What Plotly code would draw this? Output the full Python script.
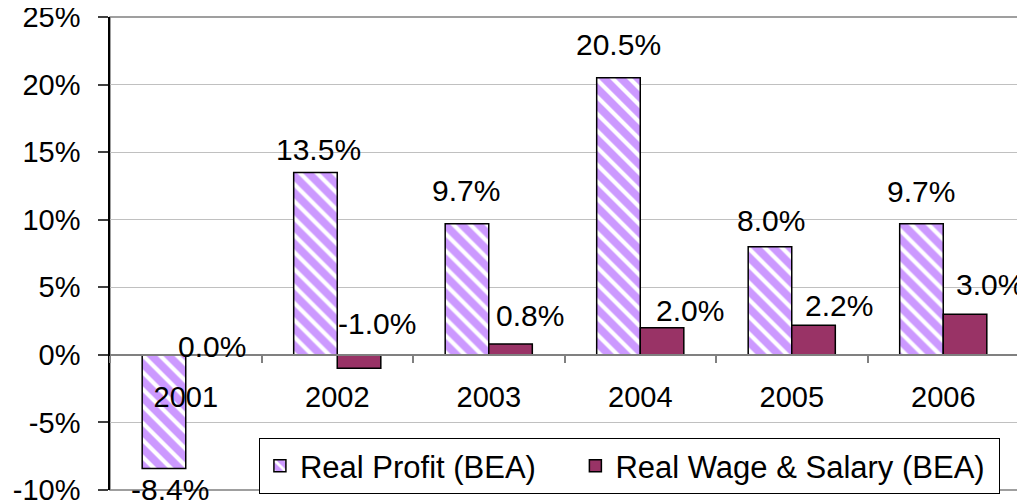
import plotly.graph_objects as go

years = ["2001", "2002", "2003", "2004", "2005", "2006"]
real_profit = [-8.4, 13.5, 9.7, 20.5, 8.0, 9.7]
real_wage = [0.0, -1.0, 0.8, 2.0, 2.2, 3.0]
profit_name = "Real Profit (BEA)" + "\u00a0" * 4
wage_name = "Real Wage & Salary (BEA)" + "\u00a0"
y_ticks = [-10, -5, 0, 5, 10, 15, 20, 25]

# label offsets (pixels) relative to bar end: (dx, dy)
profit_label_off = [(6, -21), (3, 23), (-1, 33), (0, 33), (1, 26), (-1, 32)]
wage_label_off = [(4, 8), (18, 45), (19, 29), (28, 17), (25, 20), (25, 30)]

FONT = "Arial, Liberation Sans, sans-serif"
fig = go.Figure()
fig.add_trace(go.Bar(
    x=years, y=real_profit, name=profit_name,
    marker=dict(color="#CC99FF", line=dict(color="black", width=1.5),
                pattern=dict(shape="\\", bgcolor="#CC99FF", fgcolor="white",
                             size=12, solidity=0.35, fillmode="replace")),
))
fig.add_trace(go.Bar(
    x=years, y=real_wage, name=wage_name,
    marker=dict(color="#993366", line=dict(color="black", width=1.5)),
))

bar_half = 21.75
annotations = []
for i, yr in enumerate(years):
    dx, dy = profit_label_off[i]
    annotations.append(dict(x=i, y=real_profit[i], xref="x", yref="y",
                            text=f"{real_profit[i]:.1f}%", showarrow=False,
                            xshift=-bar_half + dx, yshift=dy,
                            xanchor="center", yanchor="middle",
                            font=dict(size=30, color="black", family=FONT)))
    dx, dy = wage_label_off[i]
    annotations.append(dict(x=i, y=real_wage[i], xref="x", yref="y",
                            text=f"{real_wage[i]:.1f}%", showarrow=False,
                            xshift=bar_half + dx, yshift=dy,
                            xanchor="center", yanchor="middle",
                            font=dict(size=30, color="black", family=FONT)))

fig.update_layout(
    width=1017, height=495,
    margin=dict(l=102, r=6, t=9, b=13, autoexpand=False),
    paper_bgcolor="white", plot_bgcolor="white",
    barmode="group", bargap=0.425, bargroupgap=0,
    font=dict(family=FONT, size=29, color="black"),
    showlegend=True,
    legend=dict(orientation="h", x=0.979, xanchor="right", y=-0.0085, yanchor="bottom",
                bordercolor="black", borderwidth=1, bgcolor="white",
                font=dict(size=31, family=FONT), traceorder="normal"),
    annotations=annotations,
    shapes=[dict(type="rect", xref="paper", yref="paper", x0=0, x1=1, y0=0, y1=1,
                 line=dict(color="#808080", width=1.5), layer="below")],
    xaxis=dict(type="category", range=[-0.5, len(years) - 0.5], anchor="free",
               position=10 / 35, showline=True, automargin=False,
               linecolor="#808080", linewidth=1.5, ticks="outside", tickson="boundaries",
               ticklen=7, tickcolor="#808080", tickwidth=1.5, showgrid=False,
               zeroline=False, ticklabelstandoff=17, tickfont=dict(size=29, family=FONT)),
    yaxis=dict(range=[-10, 25], tickvals=y_ticks, ticktext=[f"{v}%" for v in y_ticks],
               showline=True, linecolor="black", linewidth=1.5, ticks="outside",
               automargin=False, ticklabeloverflow="allow",
               ticklen=10, tickcolor="#404040", tickwidth=1.5, showgrid=True,
               gridcolor="#C0C0C0", gridwidth=1, zeroline=False,
               ticklabelstandoff=12, tickfont=dict(size=29, family=FONT)),
)

fig.write_html("out.html")
